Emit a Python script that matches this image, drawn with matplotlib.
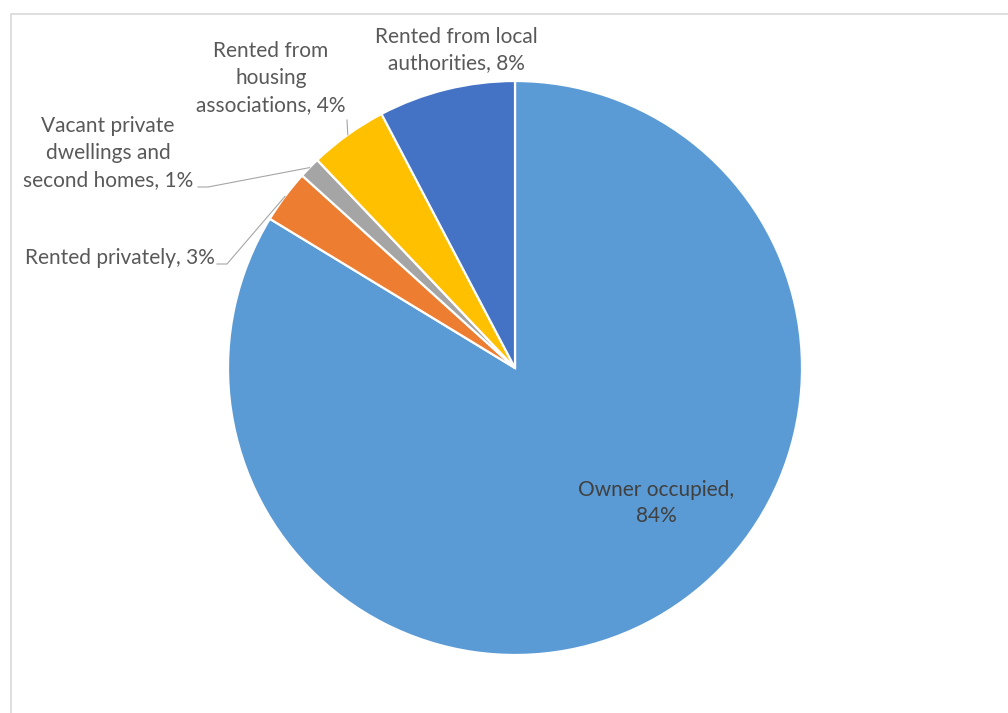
import numpy as np
import matplotlib
matplotlib.use('Agg')
import matplotlib.pyplot as plt
from matplotlib.patches import Rectangle

# Dwelling stock by tenure, percent of all dwellings
tenures = ['Owner occupied', 'Rented privately',
           'Vacant private dwellings and second homes',
           'Rented from housing associations',
           'Rented from local authorities']
shares = [83.7, 3.0, 1.2, 4.4, 7.7]
colors = ['#5B9BD5', '#ED7D31', '#A5A5A5', '#FFC000', '#4472C4']

# label text split over lines, as laid out on the chart
label_lines = [
    'Owner occupied,\n{}%',
    'Rented privately, {}%',
    'Vacant private\ndwellings and\nsecond homes, {}%',
    'Rented from\nhousing\nassociations, {}%',
    'Rented from local\nauthorities, {}%',
]

W, H = 1008, 713
CX, CY, R = 515, H - 368, 287

plt.rcParams['font.family'] = ['Lato', 'DejaVu Sans']

fig = plt.figure(figsize=(W / 100, H / 100), dpi=100)
ax = fig.add_axes([0, 0, 1, 1])
wedges, _ = ax.pie(shares, colors=colors, startangle=90, counterclock=False,
                   center=(CX, CY), radius=R,
                   wedgeprops=dict(edgecolor='white', linewidth=1.6))
ax.set_xlim(0, W)
ax.set_ylim(0, H)
ax.set_aspect('auto')
ax.axis('off')

# label placement: (x, y, ha, leader?) in pixel coords from top-left
label_pos = [
    (656, 503, 'center', None),
    (120, 258, 'center', [(217, 264), (227, 264)]),
    (108, 153, 'center', [(198, 187), (208, 187)]),
    (271, 78, 'center', [(347, 120)]),
    (456, 50, 'center', None),
]

for i, (w, txt) in enumerate(zip(wedges, label_lines)):
    x, y, ha, leader = label_pos[i]
    inside = i == 0
    ax.text(x, H - y, txt.format(int(round(shares[i]))), ha=ha, va='center',
            fontsize=15, color='#404040' if inside else '#595959',
            linespacing=1.43)
    if leader:
        mid = np.deg2rad((w.theta1 + w.theta2) / 2)
        ex = CX + R * np.cos(mid)
        ey = CY + R * np.sin(mid)
        xs = [p[0] for p in leader] + [ex]
        ys = [H - p[1] for p in leader] + [ey]
        ax.plot(xs, ys, color='#A6A6A6', lw=0.8)

# chart area frame
fig.patches.append(Rectangle((11 / W, -0.1), 1.2, 1 - 14 / H + 0.1,
                             transform=fig.transFigure, fill=False,
                             edgecolor='#D9D9D9', lw=1.2))

fig.savefig('out.png', dpi=100)
